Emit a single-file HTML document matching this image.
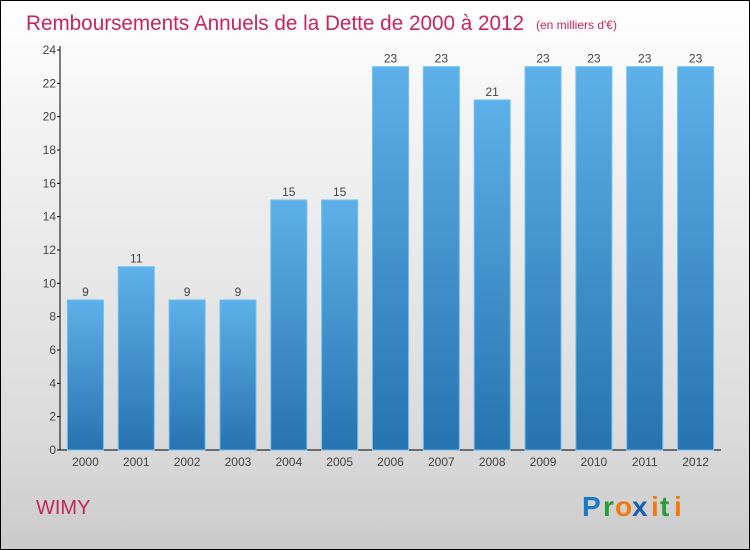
<!DOCTYPE html>
<html><head><meta charset="utf-8"><style>
html,body{margin:0;padding:0}
body{width:750px;height:550px;overflow:hidden;font-family:"Liberation Sans",sans-serif}
#wrap{position:absolute;left:0;top:0;width:748px;height:548px;border:1px solid #000;background:linear-gradient(#ffffff,#f4f4f4 20%,#dadada 80%,#cbcbcb)}
</style></head><body>
<div id="wrap"></div>
<svg width="750" height="550" style="position:absolute;left:0;top:0">
<defs><linearGradient id="bg" x1="0" y1="0" x2="0" y2="1"><stop offset="0" stop-color="#5eb0e8"/><stop offset="1" stop-color="#2673b0"/></linearGradient></defs>
<text x="26" y="30" font-size="21" fill="#c8245e" textLength="498" lengthAdjust="spacingAndGlyphs">Remboursements Annuels de la Dette de 2000 à 2012</text>
<text x="536" y="29" font-size="12" fill="#c8245e">(en milliers d'€)</text>
<g id="axes"></g><g id="bars"></g>
<text x="36" y="514" font-size="20" fill="#c8245e">WIMY</text>
<g font-size="28" font-weight="bold" font-family="Liberation Sans, sans-serif">
<text x="582" y="516" fill="#1a78c8">P</text><text x="603" y="516" fill="#2a9a3a">r</text><text x="615" y="516" fill="#f07a10">o</text><text x="632" y="516" fill="#1a60b0">x</text><text x="651" y="516" fill="#f07a10">i</text><text x="660" y="516" fill="#2a9a3a">t</text><text x="674" y="516" fill="#f07a10">i</text>
</g>
</svg>
<script>
const categories=["2000","2001","2002","2003","2004","2005","2006","2007","2008","2009","2010","2011","2012"];
const values=[9,11,9,9,15,15,23,23,21,23,23,23,23];
const yTicks=[0,2,4,6,8,10,12,14,16,18,20,22,24];
const NS="http://www.w3.org/2000/svg";
const y0=450,yTop=50,yMax=24,x0=60,x1=721;
const ys=v=>y0-(y0-yTop)*v/yMax;
const step=(x1-x0)/categories.length;
const xc=i=>x0+step*(i+0.5);
const bw=36;
function mk(t,a,p){const e=document.createElementNS(NS,t);for(const k in a)e.setAttribute(k,a[k]);p.appendChild(e);return e;}
const ax=document.getElementById('axes'),bg=document.getElementById('bars');
const yl=mk('line',{x1:x0,y1:yTop-4,x2:x0,y2:y0,stroke:'#000','stroke-width':1},ax);


const xl=mk('line',{x1:x0,y1:y0,x2:x1,y2:y0,stroke:'#000','stroke-width':1},ax);


yTicks.forEach(v=>{
  mk('line',{x1:x0-3,y1:ys(v),x2:x0,y2:ys(v),stroke:'#000'},ax);
  const t=mk('text',{x:x0-4,y:ys(v)+4,'font-size':12,fill:'#444','text-anchor':'end'},ax);
  t.textContent=v;
  
  
});
categories.forEach((c,i)=>{
  const v=values[i];
  const r=mk('rect',{x:xc(i)-bw/2,y:ys(v),width:bw,height:y0-ys(v),fill:'url(#bg)',stroke:'#6cc0f4','stroke-width':1},bg);
  
  
  const l=mk('text',{x:xc(i),y:ys(v)-4,'font-size':12,fill:'#444','text-anchor':'middle'},bg);
  l.textContent=v;
  
  
  const xt=mk('text',{x:xc(i),y:y0+16,'font-size':12,fill:'#444','text-anchor':'middle'},ax);
  xt.textContent=c;
  
  
});
</script>
</body></html>
